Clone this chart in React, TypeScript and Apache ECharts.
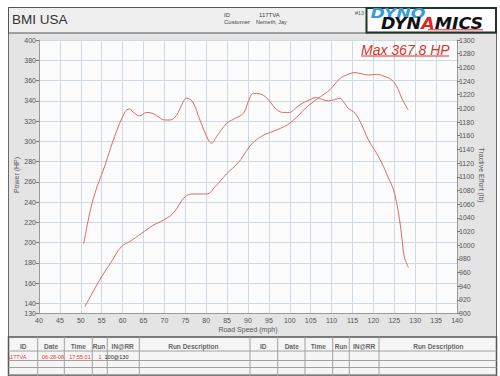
import React, { useEffect, useRef } from "react";
import * as echarts from "echarts";

// Power curve (HP) vs road speed (mph)
const hpSpeed = [51.0, 54.5, 57.3, 59.7, 61.7, 64.5, 67.3, 69.7, 72.1, 74.9, 76.9, 80.1, 82.1, 84.9, 87.7, 89.7, 91.3, 93.7, 96.1, 99.3, 101.7, 104.1, 107.3, 109.6, 112.0, 113.6, 115.6, 116.8, 118.8, 120.8, 122.4, 124.4, 125.6, 126.8, 128.3];
const hpValues = [136.8, 163, 181, 196, 201, 209, 217, 222, 229, 245, 248, 248, 255, 268, 279, 291, 299, 306, 310, 316, 324, 334, 344, 351, 362, 365.5, 367.8, 367, 365.5, 366, 364.5, 360.5, 354, 342.5, 331];

// Tractive effort (lb) vs road speed (mph)
const teSpeed = [50.7, 52.9, 55.8, 58.1, 60.6, 61.6, 62.8, 64.1, 65.7, 67.0, 68.5, 70.1, 71.3, 72.9, 74.2, 75.3, 76.7, 78.5, 80.5, 81.3, 82.5, 84.9, 86.5, 88.9, 90.2, 91.3, 92.9, 94.5, 96.9, 98.5, 99.9, 101.3, 102.9, 105.3, 106.3, 107.8, 109.2, 110.8, 112.0, 112.8, 114.0, 115.6, 117.2, 118.8, 120.8, 122.4, 123.6, 124.8, 126.0, 126.8, 127.4, 128.4];
const teValues = [1002, 1066, 1117, 1159, 1195, 1199, 1193, 1189, 1194, 1193, 1188, 1183, 1183, 1190, 1206, 1215, 1210, 1183, 1154, 1149, 1159, 1178, 1184, 1193, 1212, 1222, 1221, 1215, 1198, 1194, 1194, 1200, 1207, 1214, 1216, 1213, 1211, 1213, 1215, 1210, 1200, 1193, 1176, 1154, 1134, 1115, 1098, 1081, 1047, 1012, 983, 967];

const powerTicks = [130, 140, 160, 180, 200, 220, 240, 260, 280, 300, 320, 340, 360, 380, 400];

const tableHeaders = ["ID", "Date", "Time", "Run", "IN@RR", "Run Description"];
const runRow = ["117TVA", "06-28-08", "17:55:01", "1", "100@130"];

const FONT = "'Liberation Sans', Arial, sans-serif";

export default function App() {
  const ref = useRef<HTMLDivElement>(null);

  useEffect(() => {
    if (!ref.current) return;
    const chart = echarts.init(ref.current, undefined, { renderer: "svg" });

    const g: any[] = [];
    const txt = (text: string, x: number, y: number, o: any = {}) =>
      g.push({
        type: "text",
        x,
        y,
        z: 20,
        rotation: o.rotation || 0,
        scaleX: o.scaleX || 1,
        style: {
          text,
          fontSize: o.fontSize || 7,
          fontFamily: o.fontFamily || FONT,
          fontWeight: o.fontWeight || "normal",
          fontStyle: o.fontStyle || "normal",
          fill: o.fill || "#555",
          align: o.align || "center",
          verticalAlign: "middle",
          rich: o.rich,
        },
      });
    const line = (x1: number, y1: number, x2: number, y2: number, stroke = "#9a9a9a", w = 1) =>
      g.push({ type: "line", z: -5, shape: { x1, y1, x2, y2 }, style: { stroke, lineWidth: w } });

    // panels
    g.push({ type: "rect", z: -10, shape: { x: 8.5, y: 7.5, width: 488, height: 368 }, style: { fill: "#e4e4e4", stroke: "#6a6a6a", lineWidth: 1 } });
    g.push({ type: "rect", z: -9, shape: { x: 8.5, y: 7.5, width: 488, height: 25.5 }, style: { fill: "#efefef", stroke: "#555", lineWidth: 1 } });
    g.push({ type: "rect", z: -8, shape: { x: 366.5, y: 8, width: 129.5, height: 24.5 }, style: { fill: "#ffffff", stroke: "#1f3326", lineWidth: 2 } });
    g.push({ type: "rect", z: -9, shape: { x: 8.5, y: 337, width: 488, height: 39 }, style: { fill: "#f5f5f5", stroke: "#555", lineWidth: 1.5 } });

    // header
    txt("BMI USA", 12, 19.5, { fontSize: 13.5, fill: "#333", align: "left" });
    txt("ID", 224, 15, { fontSize: 6, fill: "#444", align: "left" });
    txt("Customer", 224, 22, { fontSize: 6, fill: "#444", align: "left" });
    txt("117TVA", 259, 15, { fontSize: 6, fill: "#444", align: "left" });
    txt("Nemeth, Jay", 256, 22, { fontSize: 5.5, fill: "#444", align: "left" });
    txt("#13", 355, 13, { fontSize: 5.5, fill: "#555", align: "left" });

    // logo
    txt("DYNO", 398, 13, { fontSize: 14, fontWeight: "bold", fontStyle: "italic", fontFamily: "'DejaVu Sans', sans-serif", fill: "#3b9ad8", scaleX: 1.24 });
    txt("{a|DYN}{b|A}{a|MICS}", 432, 23.5, {
      fontSize: 15,
      fontWeight: "bold",
      fontStyle: "italic",
      fontFamily: "'DejaVu Sans', sans-serif",
      fill: "#111",
      scaleX: 1.16,
      rich: {
        a: { fontSize: 15, fontWeight: "bold", fontStyle: "italic", fontFamily: "'DejaVu Sans', sans-serif", fill: "#111" },
        b: { fontSize: 15, fontWeight: "bold", fontStyle: "italic", fontFamily: "'DejaVu Sans', sans-serif", fill: "#e02424" },
      },
    });
    g.push({ type: "line", z: 20, shape: { x1: 428, y1: 29.8, x2: 483, y2: 29.8 }, style: { stroke: "#e02424", lineWidth: 1 } });

    // max annotation
    const maxHp = Math.max(...hpValues);
    txt(`Max ${maxHp} HP`, 361, 49.5, { fontSize: 14, fontStyle: "italic", fill: "#d9342b", align: "left" });
    g.push({ type: "line", z: 20, shape: { x1: 361, y1: 56, x2: 449, y2: 56 }, style: { stroke: "#d9342b", lineWidth: 1 } });

    // axis names
    txt("Power (HP)", 16, 175, { rotation: Math.PI / 2 });
    txt("Tractive Effort (lb)", 481, 175, { rotation: -Math.PI / 2 });
    txt("Road Speed (mph)", 248, 329);

    // table
    [351, 360.5, 367.5, 374.5].forEach((y) => line(8.5, y, 496.5, y, "#a0a0a0"));
    [37.7, 64.3, 92.3, 107.3, 139.3, 250, 277.7, 305, 332.7, 349.3, 379].forEach((x) => line(x, 337, x, 376, "#a0a0a0"));
    const leftCenters = [23.3, 51, 78.3, 99, 122.7, 193.3];
    const rightCenters = [263.3, 291.7, 318.3, 341, 364, 438.3];
    tableHeaders.forEach((h, i) => {
      txt(h, leftCenters[i], 346, { fontSize: 6.5, fontWeight: "bold", fill: "#666" });
      txt(h, rightCenters[i], 346, { fontSize: 6.5, fontWeight: "bold", fill: "#666" });
    });
    const rowCenters = [17, 53, 80, 100, 116.5];
    runRow.forEach((v, i) => {
      txt(v, rowCenters[i], 356.5, { fontSize: 5.5, fill: i < 4 ? "#e0403a" : "#222" });
    });

    const option: any = {
      animation: false,
      backgroundColor: "transparent",
      textStyle: { fontFamily: FONT },
      grid: { left: 39, right: 43, top: 40, bottom: 62.5, show: true, backgroundColor: "#fcfcfc", borderWidth: 0 },
      xAxis: {
        type: "value",
        min: 40,
        max: 140,
        interval: 5,
        axisLine: { show: true, lineStyle: { color: "#9a9a9a" } },
        axisTick: { show: false },
        axisLabel: { fontSize: 7, color: "#555", margin: 3, fontFamily: FONT },
        splitLine: { show: true, lineStyle: { color: "#cfd9e3", width: 1 } },
      },
      yAxis: [
        {
          type: "value",
          min: 130,
          max: 400,
          position: "left",
          axisLine: { show: true, lineStyle: { color: "#9a9a9a" } },
          axisTick: { show: true, length: 3, customValues: powerTicks, lineStyle: { color: "#777" } },
          axisLabel: { customValues: powerTicks, fontSize: 7, color: "#555", margin: 3, fontFamily: FONT, formatter: (v: number) => String(v) },
          splitLine: { show: true, lineStyle: { color: "#cfd9e3", width: 1 } },
        },
        {
          type: "value",
          min: 900,
          max: 1300,
          interval: 20,
          position: "right",
          axisLine: { show: true, lineStyle: { color: "#9a9a9a" } },
          axisTick: { show: true, length: 3, lineStyle: { color: "#777" } },
          axisLabel: { fontSize: 7, color: "#555", margin: 2, fontFamily: FONT, formatter: (v: number) => String(v) },
          splitLine: { show: false },
        },
      ],
      series: [
        {
          name: "Power",
          type: "line",
          yAxisIndex: 0,
          smooth: 0.4,
          showSymbol: false,
          lineStyle: { color: "#e2695c", width: 1 },
          data: hpSpeed.map((s, i) => [s, hpValues[i]]),
        },
        {
          name: "Tractive Effort",
          type: "line",
          yAxisIndex: 1,
          smooth: 0.4,
          showSymbol: false,
          lineStyle: { color: "#e2695c", width: 1 },
          data: teSpeed.map((s, i) => [s, teValues[i]]),
        },
      ],
      graphic: g,
    };
    chart.setOption(option);
    return () => chart.dispose();
  }, []);

  return (
    <div
      ref={ref}
      style={{ position: "absolute", left: 0, top: 0, width: 500, height: 376, background: "#ffffff" }}
    />
  );
}
